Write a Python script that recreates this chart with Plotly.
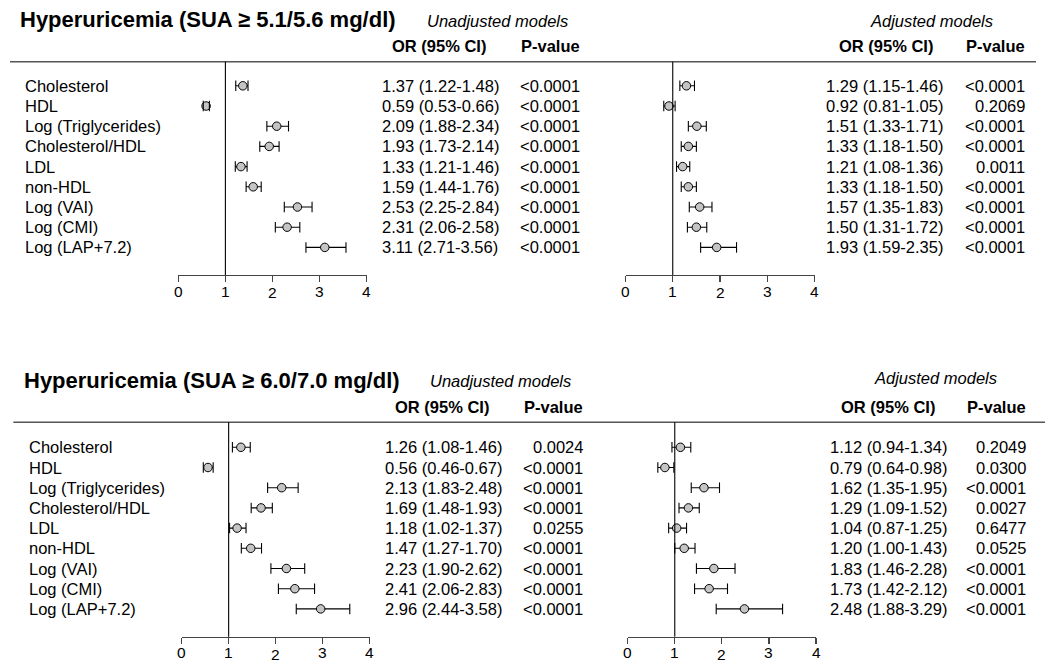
import plotly.graph_objects as go

W, H = 1045, 662

labels = ["Cholesterol", "HDL", "Log (Triglycerides)", "Cholesterol/HDL", "LDL",
          "non-HDL", "Log (VAI)", "Log (CMI)", "Log (LAP+7.2)"]
tick_vals = [0, 1, 2, 3, 4]
tick_text = ["0", "1", "2", "3", "4"]

# Panel A: SUA >= 5.1/5.6 mg/dl
a_unadj_or = [1.37, 0.59, 2.09, 1.93, 1.33, 1.59, 2.53, 2.31, 3.11]
a_unadj_lo = [1.22, 0.53, 1.88, 1.73, 1.21, 1.44, 2.25, 2.06, 2.71]
a_unadj_hi = [1.48, 0.66, 2.34, 2.14, 1.46, 1.76, 2.84, 2.58, 3.56]
a_unadj_p = ["<0.0001", "<0.0001", "<0.0001", "<0.0001", "<0.0001",
             "<0.0001", "<0.0001", "<0.0001", "<0.0001"]
a_adj_or = [1.29, 0.92, 1.51, 1.33, 1.21, 1.33, 1.57, 1.50, 1.93]
a_adj_lo = [1.15, 0.81, 1.33, 1.18, 1.08, 1.18, 1.35, 1.31, 1.59]
a_adj_hi = [1.46, 1.05, 1.71, 1.50, 1.36, 1.50, 1.83, 1.72, 2.35]
a_adj_p = ["<0.0001", "0.2069", "<0.0001", "<0.0001", "0.0011",
           "<0.0001", "<0.0001", "<0.0001", "<0.0001"]

# Panel B: SUA >= 6.0/7.0 mg/dl
b_unadj_or = [1.26, 0.56, 2.13, 1.69, 1.18, 1.47, 2.23, 2.41, 2.96]
b_unadj_lo = [1.08, 0.46, 1.83, 1.48, 1.02, 1.27, 1.90, 2.06, 2.44]
b_unadj_hi = [1.46, 0.67, 2.48, 1.93, 1.37, 1.70, 2.62, 2.83, 3.58]
b_unadj_p = ["0.0024", "<0.0001", "<0.0001", "<0.0001", "0.0255",
             "<0.0001", "<0.0001", "<0.0001", "<0.0001"]
b_adj_or = [1.12, 0.79, 1.62, 1.29, 1.04, 1.20, 1.83, 1.73, 2.48]
b_adj_lo = [0.94, 0.64, 1.35, 1.09, 0.87, 1.00, 1.46, 1.42, 1.88]
b_adj_hi = [1.34, 0.98, 1.95, 1.52, 1.25, 1.43, 2.28, 2.12, 3.29]
b_adj_p = ["0.2049", "0.0300", "<0.0001", "0.0027", "0.6477",
           "0.0525", "<0.0001", "<0.0001", "<0.0001"]

titles = ["Hyperuricemia (SUA \u2265 5.1/5.6 mg/dl)", "Hyperuricemia (SUA \u2265 6.0/7.0 mg/dl)"]

FONT = "Liberation Sans, Arial, sans-serif"
FS = 16.5

def px(x):
    return x / W

def py(y):
    return 1 - y / H

fig = go.Figure()
layout = dict(
    width=W, height=H, margin=dict(l=0, r=0, t=0, b=0, pad=0),
    paper_bgcolor="white", plot_bgcolor="rgba(0,0,0,0)",
    showlegend=False, font=dict(family=FONT, size=FS, color="black"),
)
annotations = []
shapes = []

# panel geometry (pixels)
panels = [
    dict(T=61.7, B=275.0, r0=85.8, s=20.2, title_y=19.5, sub_y=20.7, adj_y=20.7, hdr_y=45.7,
         lab_x=22.7, line_x0=10, line_x1=1036,
         ax=[(178.3, 366.7), (625.5, 814.5)],
         val_x=[380.0, 824.3], p_x=[581.7, 1026.7], hdr_or_x=[438.7, 885.5],
         sub_x=[425.0, 868.3], title_x=18.0,
         data=[(a_unadj_or, a_unadj_lo, a_unadj_hi, a_unadj_p),
               (a_adj_or, a_adj_lo, a_adj_hi, a_adj_p)]),
    dict(T=422.3, B=636.7, r0=447.3, s=20.2, title_y=380.5, sub_y=381.5, adj_y=378.3, hdr_y=406.7,
         lab_x=26.7, line_x0=13.3, line_x1=1045,
         ax=[(181.7, 369.5), (627.7, 816.0)],
         val_x=[382.5, 828.3], p_x=[584.5, 1028.3], hdr_or_x=[441.5, 887.5],
         sub_x=[427.5, 871.7], title_x=21.7,
         data=[(b_unadj_or, b_unadj_lo, b_unadj_hi, b_unadj_p),
               (b_adj_or, b_adj_lo, b_adj_hi, b_adj_p)]),
]

axis_idx = 0
rows = list(range(len(labels)))
for pi, P in enumerate(panels):
    yname = "yaxis" if pi == 0 else "yaxis2"
    yref = "y" if pi == 0 else "y2"
    rng = [(P["B"] - P["r0"]) / P["s"], (P["T"] - P["r0"]) / P["s"]]
    layout[yname] = dict(domain=[py(P["B"]), py(P["T"])], range=rng, visible=False,
                         fixedrange=True)
    # title
    annotations.append(dict(text=titles[pi], x=px(P["title_x"]), y=py(P["title_y"]),
                            xref="paper", yref="paper", xanchor="left", yanchor="middle",
                            showarrow=False, font=dict(size=22, weight="bold", family=FONT)))
    # header line
    shapes.append(dict(type="line", xref="paper", yref="paper",
                       x0=px(P["line_x0"]), x1=px(P["line_x1"]), y0=py(P["T"]), y1=py(P["T"]),
                       line=dict(color="#555555", width=1.6)))
    # row labels
    for r, lab in zip(rows, labels):
        annotations.append(dict(text=lab, x=px(P["lab_x"]), y=r, xref="paper", yref=yref,
                                xanchor="left", yanchor="middle", showarrow=False,
                                font=dict(size=FS)))
    for k in range(2):
        axis_idx += 1
        xname = "xaxis" if axis_idx == 1 else f"xaxis{axis_idx}"
        xref = "x" if axis_idx == 1 else f"x{axis_idx}"
        a0, a1 = P["ax"][k]
        layout[xname] = dict(domain=[px(a0), px(a1)], range=[0, 4], anchor=yref,
                             showgrid=False, zeroline=False, showline=True,
                             linecolor="#444444", linewidth=1.2,
                             ticks="outside", ticklen=6, tickwidth=1.2, tickcolor="#444444",
                             tickvals=tick_vals, showticklabels=False,
                             fixedrange=True)
        # tick labels (the "2" sits slightly lower, as in the reference)
        for tv, tt in zip(tick_vals, tick_text):
            annotations.append(dict(text=tt, x=tv, xref=xref, yref="paper",
                                    y=py(P["B"] + (17.8 if tt == "2" else 16.0)),
                                    xanchor="center", yanchor="middle", showarrow=False,
                                    font=dict(size=15.5, color="black")))
        orv, lo, hi, pv = P["data"][k]
        fig.add_trace(go.Scatter(
            x=orv, y=rows, xaxis=xref, yaxis=yref, mode="markers", cliponaxis=False,
            marker=dict(size=8.5, color="#c4c4c4", line=dict(color="black", width=1)),
            error_x=dict(type="data", symmetric=False,
                         array=[h - o for h, o in zip(hi, orv)],
                         arrayminus=[o - l for o, l in zip(orv, lo)],
                         color="black", thickness=1.1, width=0),
        ))
        # CI end caps drawn on top of the points
        fig.add_trace(go.Scatter(
            x=list(lo) + list(hi), y=rows + rows, xaxis=xref, yaxis=yref, mode="markers",
            cliponaxis=False,
            marker=dict(symbol="line-ns", size=7.5, color="black",
                        line=dict(color="black", width=1.1)),
        ))
        # reference line at OR = 1
        shapes.append(dict(type="line", xref=xref, yref=f"{yref} domain", x0=1, x1=1,
                           y0=0, y1=1, line=dict(color="black", width=1.1)))
        # subtitle
        annotations.append(dict(text="Unadjusted models" if k == 0 else "Adjusted models",
                                x=px(P["sub_x"][k]), y=py(P["sub_y"] if k == 0 else P["adj_y"]),
                                xref="paper", yref="paper", xanchor="left", yanchor="middle",
                                showarrow=False, font=dict(size=FS, style="italic")))
        # headers
        annotations.append(dict(text="OR (95% CI)", x=px(P["hdr_or_x"][k]), y=py(P["hdr_y"]),
                                xref="paper", yref="paper", xanchor="center", yanchor="middle",
                                showarrow=False, font=dict(size=FS, weight="bold")))
        annotations.append(dict(text="P-value", x=px(P["p_x"][k]), y=py(P["hdr_y"]),
                                xref="paper", yref="paper", xanchor="right", yanchor="middle",
                                showarrow=False, font=dict(size=FS, weight="bold")))
        for r, o, l, h, p in zip(rows, orv, lo, hi, pv):
            annotations.append(dict(text=f"{o:.2f} ({l:.2f}-{h:.2f})", x=px(P["val_x"][k]),
                                    y=r, xref="paper", yref=yref, xanchor="left",
                                    yanchor="middle", showarrow=False, font=dict(size=FS)))
            annotations.append(dict(text=p, x=px(P["p_x"][k]), y=r, xref="paper", yref=yref,
                                    xanchor="right", yanchor="middle", showarrow=False,
                                    font=dict(size=FS)))

layout["annotations"] = annotations
layout["shapes"] = shapes
fig.update_layout(**layout)
fig.write_html(
    "out.html",
    config={"displayModeBar": False, "staticPlot": True},
    post_script="document.documentElement.style.margin='0';document.body.style.margin='0';"
                "document.body.style.padding='0';document.body.style.overflow='hidden';",
)
